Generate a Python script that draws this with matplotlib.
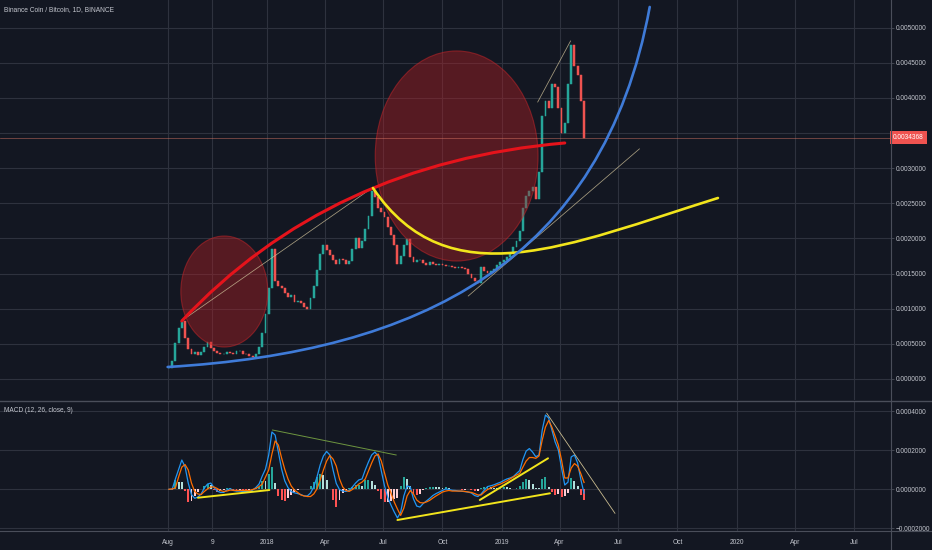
import numpy as np
import pandas as pd
import matplotlib
matplotlib.use("Agg")
import matplotlib.pyplot as plt
import matplotlib.dates as mdates
from matplotlib.patches import Ellipse, PathPatch
from matplotlib.path import Path
from matplotlib.lines import Line2D

# ---------------- data ----------------
TITLE = "Binance Coin / Bitcoin, 1D, BINANCE"
MACD_TITLE = "MACD (12, 26, close, 9)"

candle_start = "2017-08-02"
candle_step_days = 5
closes = [
    0.000160, 0.000250, 0.000510, 0.000720, 0.000820,
    0.000580, 0.000420, 0.000350, 0.000380, 0.000340,
    0.000390, 0.000450, 0.000520, 0.000440, 0.000400,
    0.000370, 0.000350, 0.000350, 0.000380, 0.000370,
    0.000360, 0.000400, 0.000400, 0.000360, 0.000350,
    0.000330, 0.000315, 0.000360, 0.000460, 0.000650,
    0.000930, 0.001300, 0.001850, 0.001400, 0.001330,
    0.001300, 0.001220, 0.001160, 0.001190, 0.001100,
    0.001110, 0.001080, 0.001020, 0.000990, 0.001150,
    0.001320, 0.001550, 0.001780, 0.001900, 0.001830,
    0.001770, 0.001690, 0.001630, 0.001710, 0.001690,
    0.001640, 0.001680, 0.001850, 0.002000, 0.001870,
    0.001970, 0.002130, 0.002320, 0.002680, 0.002590,
    0.002440, 0.002370, 0.002300, 0.002160, 0.002050,
    0.001900, 0.001640, 0.001750, 0.001900, 0.001990,
    0.001740, 0.001670, 0.001700, 0.001700, 0.001650,
    0.001620, 0.001660, 0.001640, 0.001620, 0.001640,
    0.001620, 0.001610, 0.001610, 0.001600, 0.001580,
    0.001590, 0.001580, 0.001560, 0.001500, 0.001440,
    0.001400, 0.001370, 0.001600, 0.001530, 0.001510,
    0.001540, 0.001560, 0.001620, 0.001660, 0.001700,
    0.001740, 0.001800, 0.001880, 0.001960, 0.002100,
    0.002430, 0.002600, 0.002680, 0.002730, 0.002560,
    0.002950, 0.003750, 0.003950, 0.003850, 0.004200,
    0.004150, 0.003850, 0.003500, 0.003650, 0.004200,
    0.004750, 0.004450, 0.004320, 0.003950, 0.0034368,
]
macd_line = [
    0.0e-5, 0.0e-5, 5.3e-5, 10.2e-5, 15.0e-5,
    11.6e-5, 3.2e-5, -2.7e-5, -4.6e-5, -4.0e-5,
    -2.4e-5, 0.7e-5, 2.7e-5, 3.2e-5, 0.9e-5,
    -0.9e-5, -1.6e-5, -1.6e-5, -0.4e-5, 0.4e-5,
    -0.6e-5, -0.9e-5, -0.9e-5, -1.1e-5, -1.2e-5,
    -0.9e-5, -0.4e-5, 0.9e-5, 2.7e-5, 6.8e-5,
    10.4e-5, 17.6e-5, 29.4e-5, 27.8e-5, 19.1e-5,
    10.4e-5, 4.3e-5, 0.9e-5, -1.1e-5, -1.8e-5,
    -2.2e-5, -2.7e-5, -3.4e-5, -3.4e-5, -1.9e-5,
    1.2e-5, 6.3e-5, 12.5e-5, 17.1e-5, 19.4e-5,
    17.6e-5, 9.9e-5, 3.0e-5, -0.1e-5, -0.9e-5,
    -1.1e-5, -0.6e-5, 1.2e-5, 3.2e-5, 4.8e-5,
    5.3e-5, 9.9e-5, 14.0e-5, 17.6e-5, 19.1e-5,
    17.1e-5, 9.4e-5, 1.7e-5, -4.2e-5, -8.1e-5,
    -11.6e-5, -14.7e-5, -11.8e-5, -3.4e-5, 1.7e-5,
    1.2e-5, -5.0e-5, -8.6e-5, -9.1e-5, -7.3e-5,
    -6.0e-5, -4.7e-5, -3.2e-5, -2.2e-5, -1.4e-5,
    -0.6e-5, 0.2e-5, -0.1e-5, -0.5e-5, -0.6e-5,
    -0.9e-5, -1.0e-5, -1.2e-5, -1.4e-5, -1.9e-5,
    -3.2e-5, -3.7e-5, -2.4e-5, -0.4e-5, 1.4e-5,
    1.8e-5, 2.3e-5, 3.0e-5, 3.6e-5, 4.5e-5,
    5.3e-5, 5.8e-5, 6.5e-5, 8.1e-5, 9.6e-5,
    15.3e-5, 19.6e-5, 20.9e-5, 19.1e-5, 16.7e-5,
    17.6e-5, 30.4e-5, 38.1e-5, 36.6e-5, 30.4e-5,
    24.3e-5, 20.2e-5, 10.9e-5, 2.2e-5, 3.7e-5,
    16.6e-5, 17.6e-5, 13.5e-5, 5.0e-5, -2.0e-5,
]
signal_line = [
    0.0e-5, 0.2e-5, 0.7e-5, 6.3e-5, 11.4e-5,
    12.7e-5, 9.9e-5, 3.2e-5, -1.1e-5, -2.4e-5,
    -2.7e-5, -1.1e-5, 0.2e-5, 1.2e-5, 1.2e-5,
    0.4e-5, -0.6e-5, -1.1e-5, -0.9e-5, -0.4e-5,
    -0.5e-5, -0.6e-5, -0.6e-5, -0.6e-5, -0.6e-5,
    -0.6e-5, -0.1e-5, 0.4e-5, 1.4e-5, 2.7e-5,
    6.3e-5, 9.9e-5, 18.1e-5, 24.8e-5, 22.7e-5,
    16.1e-5, 10.2e-5, 5.3e-5, 1.7e-5, -0.4e-5,
    -1.6e-5, -2.9e-5, -3.4e-5, -3.7e-5, -3.7e-5,
    -2.4e-5, 0.2e-5, 4.8e-5, 9.9e-5, 14.5e-5,
    17.3e-5, 15.5e-5, 11.9e-5, 5.3e-5, 1.2e-5,
    -0.6e-5, -1.1e-5, -0.1e-5, 1.2e-5, 2.7e-5,
    3.7e-5, 5.3e-5, 9.4e-5, 13.5e-5, 17.1e-5,
    18.1e-5, 14.5e-5, 8.4e-5, 2.2e-5, -1.9e-5,
    -6.5e-5, -10.1e-5, -13.4e-5, -9.6e-5, -3.4e-5,
    -0.6e-5, -2.4e-5, -5.5e-5, -6.8e-5, -7.0e-5,
    -6.5e-5, -5.7e-5, -4.5e-5, -3.4e-5, -2.4e-5,
    -1.4e-5, -0.9e-5, -0.6e-5, -0.9e-5, -0.9e-5,
    -0.9e-5, -0.9e-5, -1.1e-5, -1.4e-5, -1.6e-5,
    -2.2e-5, -2.9e-5, -2.9e-5, -1.4e-5, -0.1e-5,
    0.7e-5, 1.4e-5, 2.2e-5, 2.7e-5, 3.5e-5,
    4.3e-5, 5.3e-5, 6.3e-5, 7.3e-5, 8.1e-5,
    11.4e-5, 14.5e-5, 16.3e-5, 16.3e-5, 15.9e-5,
    17.1e-5, 25.3e-5, 31.9e-5, 35.3e-5, 31.9e-5,
    27.3e-5, 22.7e-5, 15.0e-5, 5.8e-5, 5.8e-5,
    10.9e-5, 13.2e-5, 11.9e-5, 8.0e-5, 3.5e-5,
]

time_tick_dates = ["2017-08-01", "2017-10-08", "2018-01-01", "2018-04-01", "2018-07-01",
                   "2018-10-01", "2019-01-01", "2019-04-01", "2019-07-01", "2019-10-01",
                   "2020-01-01", "2020-04-01", "2020-07-01"]
time_tick_labels = ["Aug", "9", "2018", "Apr", "Jul", "Oct", "2019", "Apr", "Jul", "Oct",
                    "2020", "Apr", "Jul"]
price_ticks = [0.0, 0.0005, 0.0010, 0.0015, 0.0020, 0.0025, 0.0030, 0.0035, 0.0040, 0.0045, 0.0050]
macd_ticks = [-0.0002, 0.0, 0.0002, 0.0004]

# drawings (anchor points in date / price units)
red_arc_dates = ["2017-08-22", "2018-04-09", "2019-04-09"]
red_arc_prices = [0.000826, 0.003074, 0.003359]
yellow_arc_dates = ["2018-06-15", "2018-10-10", "2019-04-14", "2019-12-03"]
yellow_arc_prices = [0.002718, 0.001132, 0.001907, 0.002576]
blue_arc_dates = ["2017-07-31", "2018-08-27", "2019-06-07", "2019-08-19"]
blue_arc_prices = [0.000171, 0.000384, 0.001665, 0.005295]
circle_centers = [("2017-10-27", 0.001245), ("2018-10-23", 0.003174)]
circle_widths_days = [135, 253]
circle_heights = [0.00158, 0.00299]
thin_lines_main = [
    (("2017-08-22", 0.000830), ("2018-06-15", 0.002728)),
    (("2019-02-26", 0.003942), ("2019-04-18", 0.004811)),
    (("2018-11-10", 0.001181), ("2019-08-03", 0.003275)),
]
macd_yellow_lines = [
    (("2017-09-16", -0.0000431), ("2018-01-05", -0.0000036)),
    (("2018-07-23", -0.0001574), ("2019-03-17", -0.0000205)),
    (("2018-11-28", -0.0000549), ("2019-03-14", 0.000159)),
]
macd_green_line = (("2018-01-10", 0.000304), ("2018-07-21", 0.000176))
macd_gray_line = (("2019-03-12", 0.00039), ("2019-06-26", -0.000123))

# ---------------- style ----------------
BG = "#131722"
GRID = "#2e323e"
SEP = "#4a4e5a"
TXT = "#c3c6ce"
UP = "#26a69a"
DN = "#ef5350"
FS = 4.7
plt.rcParams["font.family"] = ["Liberation Sans", "DejaVu Sans"]

W, H = 932, 550
fig = plt.figure(figsize=(W / 100, H / 100), dpi=100, facecolor=BG)

def fx(px):
    return px / W

def fy(py):
    return 1 - py / H

ax = fig.add_axes([0, fy(400), fx(891), 400 / H], facecolor=BG)
axm = fig.add_axes([0, fy(531), fx(891), (531 - 402) / H], facecolor=BG, sharex=ax)

dates = pd.date_range(candle_start, periods=len(closes), freq=f"{candle_step_days}D")
xd = mdates.date2num(dates.to_pydatetime())
c = np.array(closes)
o = np.concatenate([[c[0]], c[:-1]])

def d2n(s):
    return mdates.date2num(pd.Timestamp(s).to_pydatetime())

base = d2n("2017-08-01")
ax.set_xlim(base - 261.5, base + 1122.9)
ax.set_ylim(-0.000299, 0.005394)
axm.set_ylim(-0.0002138, 0.0004477)

tick_x = [d2n(s) for s in time_tick_dates]
for a in (ax, axm):
    for sp in a.spines.values():
        sp.set_visible(False)
    a.yaxis.tick_right()
    a.tick_params(axis="y", length=2.2, width=0.6, color=SEP, labelcolor=TXT,
                  labelsize=FS, pad=1.2)
    a.set_xticks(tick_x)
    a.grid(True, color=GRID, lw=0.8, zorder=0)
    a.set_axisbelow(True)

ax.tick_params(axis="x", length=0, labelbottom=False)
axm.set_xticks(tick_x)
axm.set_xticklabels(time_tick_labels)
axm.tick_params(axis="x", length=0, labelcolor=TXT, labelsize=FS + 0.1, pad=6)

last = c[-1]
ax.set_yticks(price_ticks)
ax.set_yticklabels(["" if abs(v - last) < 0.0001 else f"{v:.7f}" for v in price_ticks])
axm.set_yticks(macd_ticks)
axm.set_yticklabels([f"{v:.7f}".replace("-", "\u2212") for v in macd_ticks])

# candles
col = np.where(c >= o, UP, DN)
ax.bar(xd, c - o, bottom=o, width=2.9, color=col, edgecolor=col, linewidth=0.35, zorder=2)

# circles
for (cd, cp), wdt, hgt in zip(circle_centers, circle_widths_days, circle_heights):
    ax.add_patch(Ellipse((d2n(cd), cp), wdt, hgt, facecolor=(0.70, 0.12, 0.14, 0.42),
                         edgecolor=(0.80, 0.15, 0.16, 0.5), lw=0.8, zorder=3))

def bezier(a, ds, ps, color, lw):
    pts = [(d2n(d), p) for d, p in zip(ds, ps)]
    if len(pts) == 3:
        codes = [Path.MOVETO, Path.CURVE3, Path.CURVE3]
    else:
        codes = [Path.MOVETO, Path.CURVE4, Path.CURVE4, Path.CURVE4]
    a.add_patch(PathPatch(Path(pts, codes), fill=False, edgecolor=color, lw=lw,
                          capstyle="round", zorder=5))

bezier(ax, red_arc_dates, red_arc_prices, "#e5131b", 2.2)
bezier(ax, yellow_arc_dates, yellow_arc_prices, "#f2e51c", 1.9)
bezier(ax, blue_arc_dates, blue_arc_prices, "#3f7bd8", 1.9)

for (d1, p1), (d2, p2) in thin_lines_main:
    ax.plot([d2n(d1), d2n(d2)], [p1, p2], color="#cdbf98", lw=0.55, alpha=0.8, zorder=4)

# last price line and label
ax.axhline(last, color="#e8806a", lw=0.5, alpha=0.6, zorder=4)
ax.annotate(f"{last:.7f}", xy=(1, last), xycoords=("axes fraction", "data"),
            xytext=(1.5, 0), textcoords="offset points", ha="left", va="center",
            color="white", fontsize=FS,
            bbox=dict(boxstyle="square,pad=0.45", fc=DN, ec="none"),
            annotation_clip=False, zorder=10)

# MACD pane
m = np.array(macd_line)
sg = np.array(signal_line)
hist = m - sg
hcol = []
for i, h in enumerate(hist):
    prev = hist[i - 1] if i > 0 else 0.0
    if h >= 0:
        hcol.append("#26a69a" if h >= prev else "#b2dfdb")
    else:
        hcol.append("#ffcdd2" if h >= prev else "#ff5252")
axm.bar(xd, hist, width=3.0, color=hcol, zorder=2)
axm.plot(xd, m, color="#2196f3", lw=0.9, zorder=3)
axm.plot(xd, sg, color="#ff6d00", lw=0.9, zorder=3)

for (d1, p1), (d2, p2) in macd_yellow_lines:
    axm.plot([d2n(d1), d2n(d2)], [p1, p2], color="#f2e51c", lw=1.4, zorder=4,
             solid_capstyle="round")
(g1, gp1), (g2, gp2) = macd_green_line
axm.plot([d2n(g1), d2n(g2)], [gp1, gp2], color="#6e9640", lw=0.7, zorder=4)
(h1, hp1), (h2, hp2) = macd_gray_line
axm.plot([d2n(h1), d2n(h2)], [hp1, hp2], color="#c9bb8f", lw=0.6, zorder=4)

# titles
fig.text(fx(4), fy(10), TITLE, color=TXT, fontsize=FS + 0.1, va="center", ha="left")
fig.text(fx(4), fy(411), MACD_TITLE, color=TXT, fontsize=FS, va="center", ha="left")

# separators
fig.add_artist(Line2D([0, 1], [fy(401), fy(401)], color=SEP, lw=1.0))
fig.add_artist(Line2D([0, 1], [fy(531), fy(531)], color=SEP, lw=0.8))
fig.add_artist(Line2D([fx(891), fx(891)], [0, 1], color=SEP, lw=0.8))

fig.savefig("out.png", dpi=100, facecolor=BG)
